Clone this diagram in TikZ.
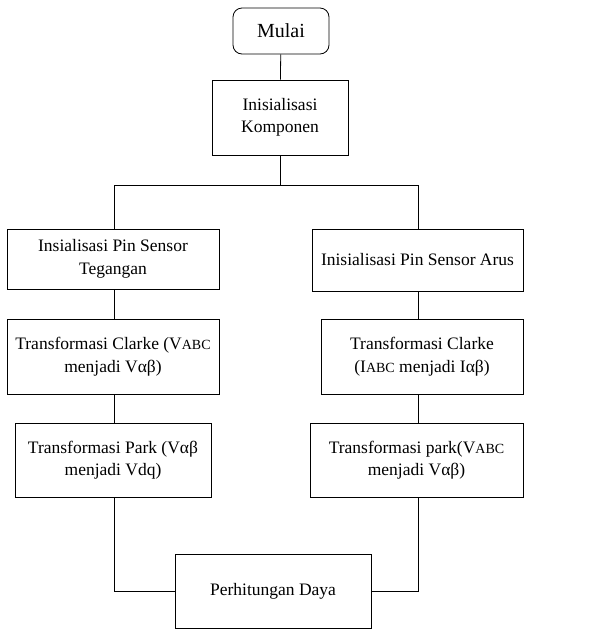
\documentclass[tikz,border=0pt]{standalone}
\usepackage{fontspec}
\setmainfont{Liberation Serif}
\newcommand\smc[1]{{\fontsize{14}{12}\selectfont #1}}
\begin{document}
\begin{tikzpicture}[x=1pt,y=-1pt,
  box/.style={draw,line width=0.8pt,align=center,inner sep=2pt,font=\fontsize{17.5}{22.5}\selectfont},
  startbox/.style={box,rounded corners=9pt,font=\fontsize{20}{24}\selectfont},
  conn/.style={line width=0.8pt}]
\useasboundingbox (0,0) rectangle (589,630);
\node[startbox,minimum width=96pt,minimum height=46pt] (start) at (281,31) {Mulai};
\node[box,minimum width=136pt,minimum height=75pt] (init) at (280,117.5) {Inisialisasi\\Komponen};
\coordinate (split) at (280,185);
\coordinate (sl) at (114,185);
\coordinate (sr) at (418,185);
\node[box,minimum width=212pt,minimum height=60pt] (v1) at (113,259) {Insialisasi Pin Sensor\\Tegangan};
\node[box,minimum width=211pt,minimum height=62pt] (i1) at (417.5,260) {Inisialisasi Pin Sensor Arus};
\node[box,minimum width=212pt,minimum height=75pt] (v2) at (113,356.5) {Transformasi Clarke (V\smc{ABC}\\menjadi Vαβ)};
\node[box,minimum width=202pt,minimum height=75pt] (i2) at (422,356.5) {Transformasi Clarke\\(I\smc{ABC} menjadi Iαβ)};
\node[box,minimum width=196pt,minimum height=74pt] (v3) at (113,460) {Transformasi Park (Vαβ\\menjadi Vdq)};
\node[box,minimum width=213pt,minimum height=74pt] (i3) at (416.5,460) {Transformasi park(V\smc{ABC}\\menjadi Vαβ)};
\node[box,minimum width=196pt,minimum height=74pt] (p) at (273,591) {Perhitungan Daya};
\draw[conn] (start) -- (init);
\draw[conn] (init) -- (split);
\draw[conn] (sl) -- (sr);
\draw[conn] (sl) -- (sl |- v1.north);
\draw[conn] (sr) -- (sr |- i1.north);
\draw[conn] (v1.south -| sl) -- (v2.north -| sl);
\draw[conn] (v2.south -| sl) -- (v3.north -| sl);
\draw[conn] (i1.south -| sr) -- (i2.north -| sr);
\draw[conn] (i2.south -| sr) -- (i3.north -| sr);
\draw[conn] (v3.south -| sl) |- (p.west);
\draw[conn] (i3.south -| sr) |- (p.east);
\end{tikzpicture}
\end{document}
